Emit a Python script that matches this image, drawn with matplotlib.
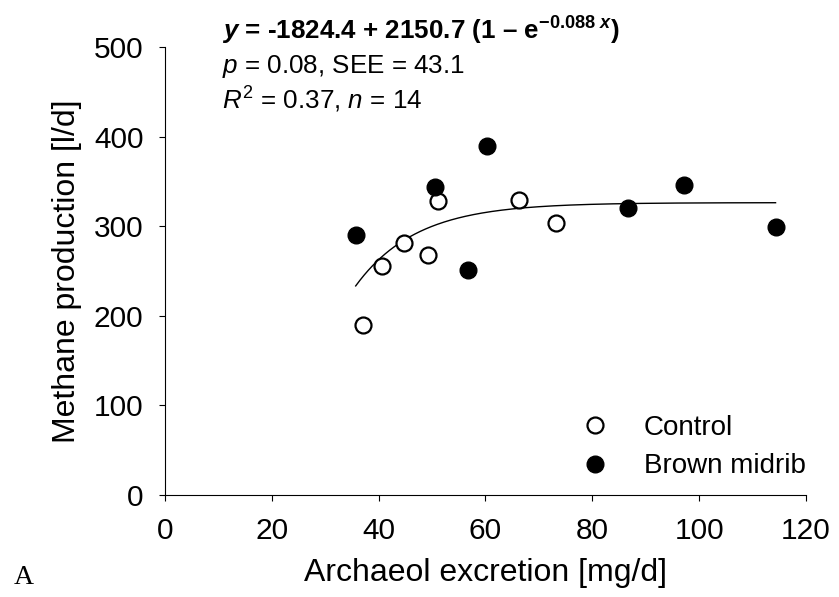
import numpy as np
import matplotlib
matplotlib.use('Agg')
import matplotlib.pyplot as plt

# ---- data ----
control_x = [37.0, 40.7, 44.8, 49.3, 51.1, 66.2, 73.2]
control_y = [189.7, 256.0, 281.6, 268.0, 328.5, 329.0, 304.0]
bmr_x = [35.7, 50.6, 56.7, 60.2, 86.7, 97.2, 114.3]
bmr_y = [290.0, 344.0, 251.0, 390.0, 320.7, 346.0, 299.5]
fit_a, fit_b, fit_k = -1824.4, 2150.7, 0.088
x_ticks = [0, 20, 40, 60, 80, 100, 120]
y_ticks = [0, 100, 200, 300, 400, 500]
series_labels = ['Control', 'Brown midrib']

plt.rcParams['font.family'] = ['Liberation Sans', 'DejaVu Sans']
plt.rcParams['mathtext.fontset'] = 'custom'
plt.rcParams['mathtext.rm'] = 'Liberation Sans'
plt.rcParams['mathtext.it'] = 'Liberation Sans:italic'
plt.rcParams['mathtext.bf'] = 'Liberation Sans:bold'
plt.rcParams['mathtext.bfit'] = 'Liberation Sans:italic:bold'

fig = plt.figure(figsize=(8.39, 5.97), dpi=100)
ax = fig.add_axes([165/839, 1-495/597, (806-165)/839, (495-47)/597])

all_x = control_x + bmr_x
xf = np.linspace(min(all_x), max(all_x), 300)
yf = fit_a + fit_b * (1 - np.exp(-fit_k * xf))
ax.plot(xf, yf, color='black', lw=1.0, zorder=2)

ax.plot(control_x, control_y, 'o', ms=11.5, mfc='white', mec='black', mew=1.6,
        ls='none', label=series_labels[0], zorder=3)
ax.plot(bmr_x, bmr_y, 'o', ms=12, mfc='black', mec='black', mew=1.0,
        ls='none', label=series_labels[1], zorder=3)

ax.set_xlim(0, 120)
ax.set_ylim(0, 500)
ax.set_xticks(x_ticks)
ax.set_yticks(y_ticks)
for s in ['top', 'right']:
    ax.spines[s].set_visible(False)
for s in ['left', 'bottom']:
    ax.spines[s].set_linewidth(0.8)
ax.tick_params(axis='both', direction='out', length=4.5, width=0.8, labelsize=21.5)
ax.tick_params(axis='y', pad=11)
ax.tick_params(axis='x', pad=11.5)

ax.set_xlabel('Archaeol excretion [mg/d]', fontsize=23, labelpad=9)
ax.set_ylabel('Methane production [l/d]', fontsize=23, labelpad=8.4)

leg = ax.legend(loc='center left', bbox_to_anchor=(0.632, 0.107), frameon=False,
                fontsize=20, handlelength=1.0, handletextpad=1.26,
                labelspacing=0.45, borderpad=0.4, borderaxespad=0.0)

# annotation
line1 = (r'$\mathbfit{y}$ = -1824.4 + 2150.7 (1 – '
         r'$\mathbf{e}^{\mathbf{-0.088}\ \mathbfit{x}}$)')
fig.text(222/839, 1-31/597, line1, fontsize=18.7, fontweight='bold', va='center', ha='left')
fig.text(222/839, 1-66/597, r'$p$ = 0.08, SEE = 43.1', fontsize=18.7, va='center', ha='left')
fig.text(222/839, 1-100/597, r'$R^2$ = 0.37, $n$ = 14', fontsize=18.7, va='center', ha='left')

fig.text(14/839, 1-577/597, 'A', fontsize=20, family='Liberation Serif', va='center', ha='left')

fig.savefig('out.png', dpi=100)
